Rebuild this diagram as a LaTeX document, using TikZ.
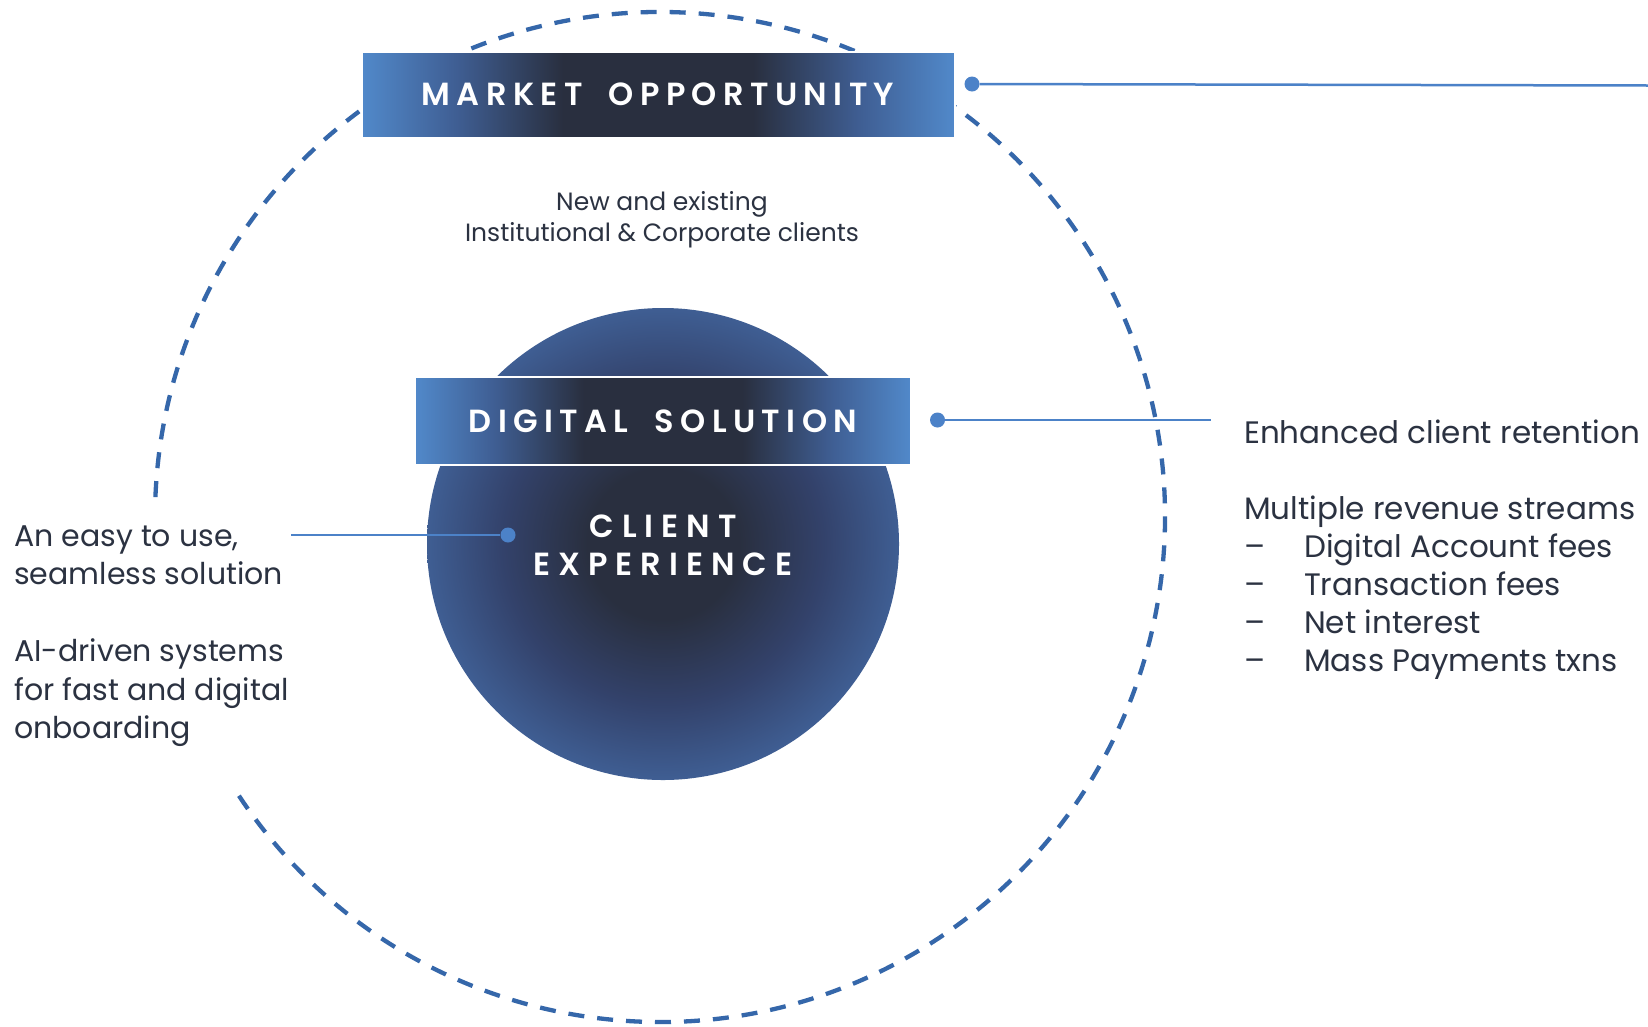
\documentclass[tikz,border=0pt]{standalone}
\usepackage{fontspec}
\setmainfont{Poppins}
\newfontfamily\ttlfont{Poppins}[LetterSpace=25, BoldFont={Poppins SemiBold}]
\newfontfamily\boxfont{Poppins}[LetterSpace=20, BoldFont={Poppins SemiBold}]
\definecolor{dashblue}{HTML}{3567AA}
\definecolor{lineblue}{HTML}{4C82C8}
\definecolor{txt}{HTML}{2B3241}
\definecolor{dk}{HTML}{292F3F}
\definecolor{mid}{HTML}{33426B}
\definecolor{lb}{HTML}{5189CA}
\definecolor{edge}{HTML}{3F5E93}
\pgfdeclarehorizontalshading{boxshade}{100bp}{color(0bp)=(lb); color(25bp)=(lb); color(33bp)=(edge); color(42bp)=(dk); color(58bp)=(dk); color(67bp)=(edge); color(75bp)=(lb); color(100bp)=(lb)}
\pgfdeclareradialshading{ballshade}{\pgfpoint{0bp}{0bp}}{color(0bp)=(dk); color(8bp)=(dk); color(17bp)=(mid); color(25bp)=(edge); color(50bp)=(edge)}
\newcommand{\wgap}{\hspace{12pt}}
\tikzset{
  titlebox/.style={shading=boxshade, draw=white, line width=2pt, inner sep=0pt, text=white,
    font=\boxfont\bfseries\fontsize{32}{38}\selectfont},
  ball/.style={circle, shading=ballshade, inner sep=0pt},
  dot/.style={circle, fill=lineblue, inner sep=0pt, minimum size=15pt},
  conn/.style={draw=lineblue, line width=2.5pt},
  ring/.style={draw=dashblue, line width=4.3pt, dash pattern=on 16pt off 13pt},
  body/.style={text=txt, inner sep=0pt, align=left},
  ctext/.style={text=txt, inner sep=0pt, align=center, font=\fontsize{25}{31.5}\selectfont},
  balltext/.style={text=white, inner sep=0pt, align=center, font=\ttlfont\bfseries\fontsize{32}{37.5}\selectfont}
}
\begin{document}
\begin{tikzpicture}[x=1pt, y=-1pt]
\useasboundingbox[fill=white] (0,0) rectangle (1648,1026);
% dashed ring
\coordinate (rc) at (660,517);
\draw[ring] (rc) ++(-146.5:505pt) arc[start angle=-146.5, end angle=178.4, radius=505pt];
% market opportunity
\node[titlebox, minimum width=593pt, minimum height=86pt] (mo) at (658,94.6) {MARKET\wgap{} OPPORTUNITY};
\node[dot] (mdot) at (972,84) {};
\coordinate (mend) at (1648,85.5);
\draw[conn] (mdot) -- (mend);
\node[ctext, anchor=base] (clients) at (662,241.6) {New and existing\\Institutional \& Corporate clients};
% client experience ball
\node[ball, minimum size=472pt] (ce) at (663,544) {};
\node[titlebox, minimum width=496pt, minimum height=88pt] (ds) at (663,421) {DIGITAL\wgap{} SOLUTION};
\node[balltext, anchor=base] (cetext) at (663,575) {CLIENT\\EXPERIENCE};
% right
\node[dot] (rdot) at (937.5,420) {};
\coordinate (rend) at (1211,420);
\draw[conn] (rdot) -- (rend);
\node[body, font=\fontsize{31}{38}\selectfont, anchor=base west] (rtext) at (1244,671) {Enhanced client retention\\[38pt]Multiple revenue streams\\
\makebox[60pt][l]{--}Digital Account fees\\
\makebox[60pt][l]{--}Transaction fees\\
\makebox[60pt][l]{--}Net interest\\
\makebox[60pt][l]{--}Mass Payments txns};
% left
\coordinate (lend) at (291,535);
\node[dot] (ldot) at (508,535) {};
\draw[conn] (lend) -- (ldot);
\node[body, font=\fontsize{30}{38.5}\selectfont, anchor=base west] (ltext) at (14,738.5) {An easy to use,\\seamless solution\\[38.5pt]AI-driven systems\\for fast and digital\\onboarding};
\end{tikzpicture}
\end{document}
